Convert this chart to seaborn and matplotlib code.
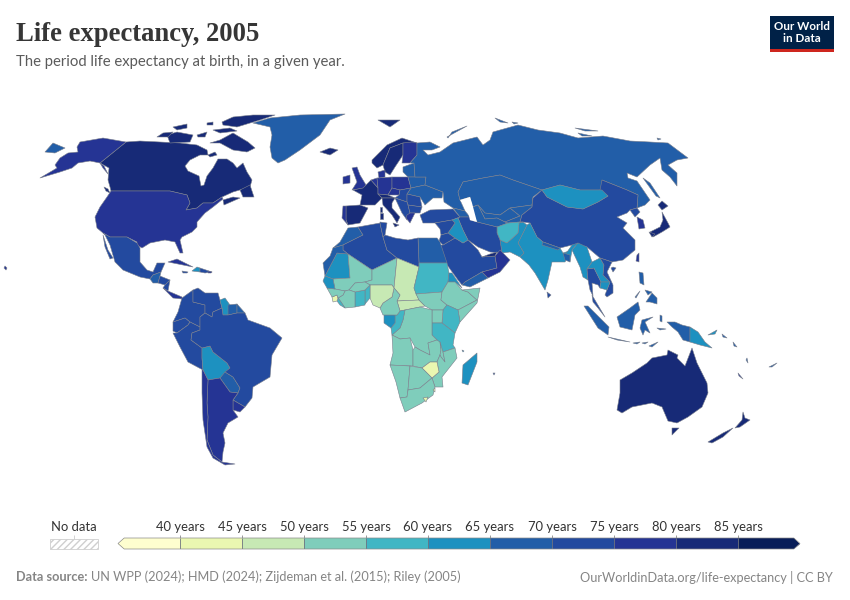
import numpy as np
import seaborn as sns
import matplotlib
matplotlib.use("Agg")
import matplotlib.pyplot as plt
from matplotlib.collections import PolyCollection
from matplotlib.colors import BoundaryNorm, ListedColormap
from matplotlib.patches import Polygon, Rectangle

# Bins and colours of the legend
bin_edges = [40, 45, 50, 55, 60, 65, 70, 75, 80, 85]
bin_colors = ["#fefecf", "#eaf7b1", "#c7e9b4", "#7fcdbb", "#41b6c4", "#1d91c0",
              "#225ea8", "#234a9f", "#253494", "#172a77", "#081d58"]

title = "Life expectancy, 2005"
subtitle = "The period life expectancy at birth, in a given year."
source_bold = "Data source:"
source_text = "UN WPP (2024); HMD (2024); Zijdeman et al. (2015); Riley (2005)"
credit = "OurWorldinData.org/life-expectancy | CC BY"

# Life expectancy by country
values_americas = {"Canada": 80.3, "USA": 77.6, "Chukotka": 66, "Mexico": 73.5, "Guatemala": 68, "Honduras": 71,
                   "Nicaragua": 72, "Panama": 76.5, "Cuba": 77, "Haiti": 60, "Dominican": 71, "Jamaica": 72,
                   "Puerto Rico": 78, "Colombia": 72, "Venezuela": 72, "Guyana": 63, "Suriname": 68, "Guiana": 68,
                   "Ecuador": 73, "Peru": 72.6, "Bolivia": 63, "Brazil": 71.5, "Paraguay": 69, "Uruguay": 75.5,
                   "Argentina": 75, "Chile": 78, "Greenland": 68}
values_europe = {"Iceland": 81, "Norway": 80.1, "Sweden": 80.6, "Finland": 78.9, "UK": 79, "Ireland": 79, "France": 80.2,
                 "Spain": 80.3, "Portugal": 78, "Benelux": 79, "Germany": 79, "Denmark": 78, "Poland": 75.2, "Baltics": 69,
                 "Belarus": 69, "Ukraine": 67.8, "Czechia": 76, "Austria": 80.1, "Italy": 80.8, "Hungary": 73,
                 "Romania": 72, "Balkans": 73.5, "Bulgaria": 72.5, "Greece": 79.3, "Russia": 65.5}
values_asia = {"Turkey": 73, "Caucasus": 69, "Kazakhstan": 66, "Uzbekistan": 67, "Turkmenistan": 66, "Kyrgyzstan": 67,
               "China": 74, "Mongolia": 64, "North Korea": 70, "South Korea": 78.5, "Japan": 81.9, "Taiwan": 77,
               "India": 64, "Pakistan": 63.5, "Afghanistan": 58, "Iran": 72, "Nepal": 66, "Bangladesh": 67, "Sri Lanka": 72,
               "Myanmar": 62, "Thailand": 72, "Laos": 63, "Vietnam": 73, "Cambodia": 62, "Malaysia": 72,
               "Indonesia": 67, "Philippines": 69, "Saudi Arabia": 73, "Yemen": 65.5, "Oman": 76, "UAE": 81,
               "Iraq": 62, "Syria": 73.5, "Jordan": 72}
values_africa = {"Egypt": 68, "Morocco": 69, "Algeria": 72, "Tunisia": 73, "Libya": 71, "Mauritania": 62, "W Sahara": 68,
                 "Mali": 51, "Niger": 52, "Chad": 48, "CAR": 47, "Sudan": 59, "South Sudan": 52, "Eritrea": 61,
                 "Ethiopia": 53, "Somalia": 52, "Kenya": 57, "Uganda": 52, "Tanzania": 57, "DRC": 52, "Congo": 56,
                 "Gabon": 61, "Cameroon": 52, "Nigeria": 47, "Benin": 57, "Ghana": 58, "Burkina": 52, "Ivory Coast": 51,
                 "Liberia": 56, "Sierra Leone": 44, "Guinea": 54, "Senegal": 63, "Angola": 52, "Zambia": 51, "Malawi": 52,
                 "Mozambique": 53, "Zimbabwe": 44, "Namibia": 54, "Botswana": 54, "South Africa": 54, "Lesotho": 42,
                 "Eswatini": 44, "Madagascar": 61, "Comoros": 63, "Mauritius": 72}
values_oceania = {"Australia": 80.9, "New Zealand": 80, "Papua New Guinea": 62, "Fiji": 68, "Solomon": 66,
                  "New Caledonia": 75, "Vanuatu": 67}

outlines_north_america = {
    "Canada": [(126, 142), (140, 141), (160, 142), (180, 143), (197, 145), (207, 150), (208, 155), (200, 155), (190, 160), (185, 166), (188, 171), (199, 176), (201, 186), (204, 185), (207, 176), (213, 168), (218, 159), (227, 159), (233, 163), (237, 168), (243, 163), (247, 172), (252, 180), (250, 187), (233, 192), (222, 197), (213, 203), (203, 203), (197, 208), (186, 210), (190, 203), (187, 195), (170, 191), (111, 191), (110, 187), (108, 180), (109, 168), (100, 163)],
    "Canada:Baffin": [(210, 143), (220, 140), (233, 133), (248, 142), (255, 148), (247, 152), (233, 150), (220, 143)],
    "Canada:Victoria": [(167, 135), (177, 132), (193, 135), (190, 142), (170, 143)],
    "Canada:Banks": [(157, 137), (163, 133), (173, 132), (168, 137)],
    "Canada:Ellesmere": [(222, 122), (233, 117), (253, 115), (275, 115), (260, 120), (237, 127), (223, 125)],
    "Canada:Melville": [(173, 127), (187, 124), (187, 128), (177, 130)],
    "Canada:Devon": [(213, 130), (230, 128), (237, 131), (220, 133)],
    "Canada:Prince": [(197, 135), (207, 132), (205, 137), (198, 137)],
    "Canada:Bathurst": [(207, 123), (213, 122), (213, 125), (207, 125)],
    "Canada:Southampton": [(208, 155), (215, 152), (217, 155), (210, 157)],
    "Canada:Newfoundland": [(240, 190), (250, 185), (254, 197), (243, 197)],
    "Canada:Nova Scotia": [(223, 200), (233, 197), (240, 198), (224, 205)],
    "Canada:Vancouver": [(104, 187), (108, 189), (110, 193), (106, 191)],
    "USA": [(111, 191), (170, 191), (187, 195), (190, 203), (186, 210), (197, 208), (203, 203), (213, 203), (222, 197), (223, 199), (213, 207), (205, 213), (197, 222), (197, 227), (192, 232), (182, 237), (180, 240), (183, 253), (180, 253), (175, 242), (165, 240), (150, 243), (142, 248), (137, 245), (137, 242), (127, 237), (110, 237), (103, 233), (97, 228), (95, 217), (100, 207), (107, 197)],
    "USA:Alaska": [(126, 142), (100, 163), (90, 161), (78, 163), (72, 168), (60, 172), (40, 178), (57, 168), (55, 165), (60, 158), (68, 153), (78, 152), (77, 147), (80, 142), (103, 138)],
    "USA:Panhandle": [(100, 163), (104, 166), (108, 174), (103, 168)],
    "USA:Hawaii": [(5, 266), (7, 268), (6, 270), (4, 268)],
    "Chukotka": [(45, 152), (53, 143), (65, 148), (55, 153)],
    "Mexico": [(103, 233), (110, 237), (127, 237), (137, 243), (140, 248), (140, 262), (147, 270), (153, 272), (157, 263), (165, 263), (161, 272), (153, 275), (150, 279), (140, 277), (123, 270), (115, 262), (110, 245), (105, 235)],
    "Mexico:Baja": [(103, 235), (108, 250), (113, 258), (110, 259), (105, 247)],
    "Guatemala": [(150, 279), (153, 275), (161, 272), (160, 276), (158, 283), (153, 283)],
    "Honduras": [(160, 276), (170, 280), (165, 285), (158, 283)],
    "Nicaragua": [(165, 285), (170, 280), (168, 291), (163, 288)],
    "Panama": [(163, 288), (168, 291), (175, 294), (182, 297), (182, 299), (173, 298)],
    "Cuba": [(168, 262), (177, 259), (193, 267), (183, 265)],
    "Haiti": [(192, 271), (197, 267), (200, 268), (200, 272)],
    "Dominican": [(200, 268), (212, 272), (205, 273), (200, 272)],
    "Jamaica": [(182, 271), (188, 272), (187, 273), (183, 273)],
    "Puerto Rico": [(208, 271), (212, 272), (211, 273), (208, 273)],
    "Greenland": [(253, 123), (270, 118), (300, 115), (345, 114), (330, 120), (320, 135), (300, 150), (285, 160), (278, 163), (272, 158), (270, 147), (272, 135), (270, 127)],
}
outlines_south_america = {
    "Colombia": [(182, 298), (193, 290), (193, 302), (205, 305), (205, 313), (200, 317), (200, 327), (190, 322), (185, 318), (173, 322), (178, 312)],
    "Venezuela": [(193, 290), (198, 288), (205, 293), (218, 293), (220, 300), (222, 308), (213, 312), (212, 317), (205, 313), (205, 305), (193, 302)],
    "Guyana": [(220, 300), (225, 298), (230, 305), (228, 315), (223, 315), (222, 308)],
    "Suriname": [(228, 305), (237, 304), (237, 313), (228, 315)],
    "Guiana": [(237, 304), (245, 313), (237, 313)],
    "Ecuador": [(173, 322), (185, 318), (190, 322), (188, 325), (177, 333), (173, 331)],
    "Peru": [(177, 333), (188, 325), (190, 322), (200, 327), (200, 330), (192, 333), (191, 340), (202, 348), (202, 358), (203, 370), (188, 362), (180, 347), (173, 333)],
    "Bolivia": [(202, 348), (210, 346), (213, 352), (227, 363), (230, 368), (220, 378), (208, 380), (203, 370), (202, 358)],
    "Paraguay": [(220, 378), (225, 372), (233, 377), (240, 388), (238, 393), (230, 392)],
    "Brazil": [(200, 317), (205, 313), (212, 317), (213, 312), (222, 308), (223, 315), (228, 315), (237, 313), (245, 313), (248, 320), (270, 328), (282, 338), (272, 355), (270, 377), (253, 387), (252, 398), (245, 407), (233, 400), (238, 393), (240, 388), (233, 377), (225, 372), (230, 368), (227, 363), (213, 352), (210, 346), (202, 348), (191, 340), (192, 333), (200, 330), (200, 327)],
    "Uruguay": [(233, 400), (245, 407), (240, 412), (233, 410)],
    "Argentina": [(208, 380), (220, 378), (230, 392), (238, 393), (233, 400), (233, 410), (238, 417), (228, 423), (223, 433), (225, 443), (223, 452), (222, 462), (213, 455), (207, 440), (208, 417), (207, 403)],
    "Chile": [(203, 370), (208, 380), (207, 403), (208, 417), (207, 440), (213, 455), (222, 462), (235, 464), (225, 465), (213, 458), (207, 447), (203, 420), (202, 393), (202, 370)],
}
outlines_europe = {
    "Iceland": [(320, 152), (330, 148), (338, 150), (330, 155)],
    "Norway": [(372, 160), (387, 145), (402, 138), (417, 143), (403, 143), (390, 148), (383, 165), (377, 168), (372, 163)],
    "Norway:Svalbard": [(378, 120), (400, 120), (390, 127)],
    "Sweden": [(383, 165), (390, 148), (403, 143), (403, 155), (395, 167), (390, 175), (385, 172)],
    "Finland": [(403, 143), (412, 142), (417, 143), (417, 155), (410, 163), (402, 163), (403, 155)],
    "UK": [(352, 168), (357, 167), (360, 175), (366, 185), (364, 188), (352, 190), (357, 182)],
    "Ireland": [(343, 177), (350, 175), (350, 183), (343, 184)],
    "France": [(353, 190), (363, 188), (371, 180), (378, 188), (378, 194), (382, 198), (375, 205), (360, 205), (362, 195)],
    "France:Corsica": [(380, 207), (382, 207), (382, 212), (380, 212)],
    "Spain": [(346, 206), (360, 205), (368, 208), (360, 223), (348, 225), (346, 220)],
    "Portugal": [(343, 206), (346, 206), (346, 220), (348, 225), (342, 218)],
    "Benelux": [(371, 180), (377, 178), (378, 188)],
    "Germany": [(377, 178), (392, 177), (392, 188), (388, 195), (378, 194), (378, 188)],
    "Denmark": [(378, 172), (385, 170), (385, 177), (379, 178)],
    "Poland": [(392, 177), (408, 177), (411, 188), (400, 190), (392, 188)],
    "Baltics": [(403, 167), (414, 163), (415, 177), (408, 177), (403, 172)],
    "Belarus": [(408, 177), (415, 177), (426, 177), (425, 185), (411, 188)],
    "Ukraine": [(411, 188), (425, 185), (443, 192), (442, 198), (433, 198), (425, 205), (420, 197), (407, 194)],
    "Czechia": [(392, 188), (400, 190), (399, 195), (388, 195)],
    "Austria": [(378, 194), (388, 195), (395, 198), (382, 198)],
    "Italy": [(382, 198), (395, 198), (392, 203), (392, 208), (400, 217), (397, 223), (392, 215), (383, 205)],
    "Italy:Sicily": [(393, 223), (399, 225), (395, 227)],
    "Italy:Sardinia": [(380, 213), (383, 213), (383, 219), (380, 219)],
    "Hungary": [(395, 198), (399, 195), (400, 190), (411, 188), (407, 194), (407, 202)],
    "Romania": [(407, 194), (420, 197), (422, 207), (408, 205), (407, 202)],
    "Balkans": [(395, 198), (407, 202), (408, 205), (410, 213), (407, 220), (402, 213)],
    "Bulgaria": [(408, 205), (422, 207), (420, 213), (410, 213)],
    "Greece": [(407, 215), (410, 213), (415, 213), (410, 223), (406, 218)],
    "Russia": [(417, 143), (430, 142), (440, 147), (432, 150), (423, 150), (428, 155), (440, 152), (453, 143), (477, 137), (483, 145), (490, 140), (493, 132), (500, 130), (518, 125), (538, 130), (560, 133), (578, 138), (603, 136), (630, 141), (650, 142), (668, 143), (680, 152), (688, 158), (677, 160), (668, 165), (677, 173), (677, 186), (670, 177), (662, 170), (660, 158), (650, 165), (637, 177), (627, 173), (628, 178), (637, 181), (650, 200), (645, 205), (637, 208), (638, 195), (627, 190), (602, 180), (602, 190), (580, 190), (560, 185), (542, 190), (513, 180), (500, 175), (483, 178), (463, 182), (458, 192), (460, 200), (465, 211), (453, 208), (444, 202), (443, 192), (425, 185), (426, 177), (415, 177), (414, 163), (410, 163), (417, 155)],
    "Russia:Novaya Zemlya": [(447, 137), (467, 126), (452, 132), (448, 138)],
    "Russia:Sakhalin": [(643, 178), (650, 183), (660, 198), (656, 196)],
    "Russia:Siberia Is": [(495, 118), (508, 123), (500, 122)],
    "Russia:Severnaya": [(512, 122), (518, 123), (514, 124)],
    "Russia:Lyakhov": [(575, 128), (598, 131), (585, 131)],
    "Russia:Anjou": [(578, 133), (592, 136), (582, 136)],
    "Russia:Wrangel": [(657, 138), (661, 139), (658, 140)],
}
outlines_asia = {
    "Turkey": [(420, 215), (430, 210), (453, 209), (460, 217), (452, 220), (435, 223), (423, 223)],
    "Caucasus": [(453, 208), (465, 211), (470, 217), (460, 217)],
    "Kazakhstan": [(458, 192), (463, 182), (483, 178), (500, 175), (513, 180), (542, 190), (533, 197), (532, 205), (510, 208), (500, 215), (485, 213), (478, 205), (472, 207), (470, 197), (460, 200)],
    "Uzbekistan": [(478, 205), (485, 213), (500, 215), (510, 208), (520, 216), (505, 222), (497, 218), (485, 219)],
    "Turkmenistan": [(470, 208), (478, 205), (485, 219), (497, 218), (505, 222), (508, 223), (497, 227), (477, 222)],
    "Kyrgyzstan": [(510, 208), (532, 205), (533, 198), (532, 207), (522, 215), (520, 222), (508, 223), (505, 222), (520, 216)],
    "China": [(522, 215), (532, 207), (533, 198), (542, 190), (547, 197), (567, 207), (583, 209), (598, 202), (608, 196), (600, 190), (602, 180), (627, 190), (638, 195), (637, 208), (630, 210), (627, 213), (617, 217), (627, 223), (623, 228), (635, 240), (635, 250), (623, 260), (612, 262), (600, 258), (587, 247), (572, 245), (560, 248), (543, 242), (537, 237), (530, 223), (523, 222), (520, 222)],
    "Mongolia": [(542, 190), (560, 185), (580, 190), (602, 190), (608, 196), (598, 202), (583, 209), (567, 207), (547, 197)],
    "North Korea": [(630, 210), (637, 208), (640, 212), (635, 217)],
    "South Korea": [(637, 217), (643, 220), (645, 228), (639, 229)],
    "Japan": [(650, 232), (660, 227), (663, 220), (662, 212), (668, 223), (670, 227), (662, 232), (653, 237)],
    "Japan:Hokkaido": [(658, 205), (662, 201), (668, 206), (662, 210)],
    "Japan:Kyushu": [(649, 232), (655, 234), (652, 237)],
    "Taiwan": [(637, 255), (639, 253), (639, 262), (636, 261)],
    "China:Hainan": [(611, 268), (613, 267), (616, 268), (613, 272)],
    "India": [(527, 225), (530, 223), (537, 237), (543, 242), (560, 248), (563, 253), (572, 250), (565, 262), (552, 262), (548, 280), (545, 290), (535, 273), (529, 265), (520, 257), (524, 253), (518, 243), (523, 233)],
    "India:Assam": [(565, 255), (572, 245), (578, 243), (572, 250), (570, 262)],
    "Bangladesh": [(563, 253), (570, 255), (570, 262), (565, 260)],
    "Nepal": [(543, 242), (560, 248), (558, 250), (542, 245)],
    "Sri Lanka": [(547, 292), (551, 295), (548, 298)],
    "Pakistan": [(500, 240), (507, 243), (518, 233), (519, 223), (523, 222), (527, 225), (523, 233), (518, 243), (524, 253), (520, 257), (510, 252), (502, 253)],
    "Afghanistan": [(497, 227), (508, 223), (520, 222), (523, 222), (519, 223), (518, 233), (507, 243), (500, 240), (497, 233)],
    "Iran": [(458, 218), (460, 217), (470, 217), (470, 220), (477, 222), (497, 227), (497, 233), (500, 240), (502, 253), (490, 252), (478, 247), (468, 240), (463, 230)],
    "Myanmar": [(572, 250), (578, 243), (587, 247), (592, 262), (587, 269), (588, 280), (583, 277), (580, 267)],
    "Thailand": [(587, 269), (594, 268), (601, 282), (600, 288), (598, 285), (592, 283), (593, 296), (590, 290), (588, 280)],
    "Laos": [(592, 262), (600, 258), (604, 265), (603, 275), (610, 282), (601, 282), (594, 268), (587, 269)],
    "Vietnam": [(600, 258), (612, 262), (607, 272), (613, 285), (613, 293), (607, 297), (605, 295), (610, 282), (603, 275), (604, 265)],
    "Cambodia": [(601, 282), (610, 282), (607, 290), (600, 288)],
    "Malaysia": [(592, 295), (605, 317), (598, 308), (593, 302)],
    "Indonesia:Sumatra": [(584, 306), (588, 306), (609, 327), (608, 335), (598, 328)],
    "Indonesia:Java": [(608, 337), (630, 342), (617, 340)],
    "Indonesia:Bali": [(633, 343), (640, 342), (637, 344)],
    "Indonesia:Flores": [(642, 343), (648, 342), (645, 344)],
    "Indonesia:Timor": [(649, 346), (658, 342), (652, 347)],
    "Indonesia:Borneo": [(617, 317), (630, 308), (638, 302), (640, 310), (635, 315), (632, 330), (620, 327)],
    "Indonesia:Sulawesi": [(642, 320), (653, 317), (645, 322), (650, 333), (645, 330), (643, 335), (640, 328)],
    "Indonesia:Halmahera": [(660, 315), (662, 316), (662, 322), (660, 321)],
    "Indonesia:Seram": [(657, 328), (666, 329), (660, 330)],
    "Indonesia:Papua": [(667, 322), (675, 322), (682, 325), (690, 327), (690, 342), (683, 340), (678, 332), (672, 327)],
    "Philippines": [(639, 272), (643, 273), (644, 285), (640, 283)],
    "Philippines:Mindanao": [(646, 302), (652, 293), (657, 298), (657, 304), (650, 302)],
    "Philippines:Visayas": [(645, 290), (652, 292), (648, 295)],
    "Philippines:Palawan": [(635, 297), (640, 291), (636, 298)],
    "Saudi Arabia": [(440, 245), (443, 245), (455, 238), (463, 243), (468, 240), (478, 250), (482, 257), (495, 256), (497, 268), (482, 272), (465, 282), (462, 285), (458, 280), (445, 262)],
    "Yemen": [(462, 285), (465, 282), (482, 272), (488, 278), (470, 287)],
    "Oman": [(495, 256), (500, 250), (510, 260), (500, 272), (488, 278), (482, 272), (497, 268)],
    "UAE": [(482, 257), (490, 254), (497, 252), (495, 256)],
    "Iraq": [(448, 233), (455, 223), (452, 220), (458, 218), (463, 230), (468, 240), (463, 243), (455, 238)],
    "Syria": [(435, 223), (452, 220), (455, 223), (448, 233), (441, 235), (440, 229)],
    "Jordan": [(441, 235), (448, 233), (455, 238), (443, 245), (439, 241)],
}
outlines_africa = {
    "Egypt": [(418, 238), (437, 238), (440, 242), (447, 263), (419, 263)],
    "Morocco": [(333, 248), (340, 242), (348, 228), (358, 227), (363, 235), (343, 245)],
    "Algeria": [(358, 227), (380, 223), (383, 237), (387, 250), (397, 258), (372, 270), (348, 254), (343, 250), (343, 245), (363, 235)],
    "Tunisia": [(380, 222), (387, 223), (385, 235), (383, 237), (380, 223)],
    "Libya": [(385, 235), (395, 238), (408, 240), (418, 238), (419, 263), (419, 267), (397, 258), (387, 250), (383, 237)],
    "Mauritania": [(325, 276), (337, 253), (348, 254), (350, 278), (333, 279)],
    "W Sahara": [(323, 263), (330, 256), (333, 248), (343, 245), (343, 250), (348, 254), (337, 253), (325, 276)],
    "Mali": [(348, 254), (372, 270), (372, 280), (365, 282), (355, 283), (349, 290), (345, 291), (335, 289), (333, 279), (350, 278)],
    "Niger": [(372, 270), (397, 258), (394, 288), (392, 285), (370, 285), (365, 282), (372, 280)],
    "Chad": [(397, 258), (419, 267), (414, 288), (419, 300), (397, 301), (400, 295), (394, 288)],
    "CAR": [(397, 301), (419, 300), (425, 306), (420, 307), (405, 310), (400, 311)],
    "Sudan": [(419, 263), (447, 263), (449, 273), (448, 282), (442, 292), (416, 294), (414, 288), (419, 267)],
    "South Sudan": [(416, 294), (442, 292), (441, 300), (447, 305), (443, 310), (432, 310), (425, 306), (419, 300)],
    "Eritrea": [(449, 273), (452, 273), (462, 288), (455, 282), (448, 282)],
    "Ethiopia": [(442, 292), (448, 282), (455, 282), (462, 290), (468, 292), (477, 300), (458, 310), (447, 305), (441, 300)],
    "Somalia": [(462, 290), (480, 288), (477, 303), (460, 322), (458, 310), (477, 300), (468, 292)],
    "Kenya": [(447, 305), (458, 310), (460, 322), (455, 333), (442, 323), (443, 310)],
    "Uganda": [(432, 310), (443, 310), (442, 323), (432, 323)],
    "Tanzania": [(432, 323), (442, 323), (455, 333), (453, 345), (455, 348), (443, 352), (437, 340), (432, 335)],
    "DRC": [(405, 310), (420, 307), (432, 310), (432, 335), (437, 340), (428, 343), (430, 355), (420, 350), (415, 347), (410, 338), (400, 339), (392, 335), (400, 328), (403, 320)],
    "Congo": [(397, 315), (400, 311), (405, 310), (403, 320), (400, 328), (392, 335), (391, 328), (395, 323), (395, 315)],
    "Gabon": [(384, 315), (395, 315), (395, 323), (391, 328), (384, 323)],
    "Cameroon": [(394, 288), (400, 295), (397, 301), (400, 311), (397, 315), (383, 315), (380, 308), (383, 303), (392, 297)],
    "Nigeria": [(370, 285), (392, 285), (394, 288), (392, 297), (383, 303), (380, 308), (373, 305), (370, 298)],
    "Benin": [(365, 290), (370, 285), (370, 298), (365, 304)],
    "Ghana": [(355, 292), (365, 290), (365, 305), (355, 307)],
    "Burkina": [(349, 290), (355, 283), (365, 282), (370, 285), (365, 290), (355, 292)],
    "Ivory Coast": [(345, 291), (349, 290), (355, 292), (355, 307), (345, 308), (341, 302), (338, 298), (343, 295)],
    "Liberia": [(337, 301), (338, 298), (341, 302), (345, 308), (340, 305)],
    "Sierra Leone": [(332, 297), (337, 295), (338, 298), (337, 301), (333, 302)],
    "Guinea": [(327, 288), (335, 289), (345, 291), (343, 295), (338, 298), (337, 295), (332, 297)],
    "Senegal": [(325, 276), (333, 279), (335, 289), (327, 288), (323, 281)],
    "Angola": [(392, 335), (400, 339), (410, 338), (413, 350), (413, 366), (390, 365), (393, 353)],
    "Zambia": [(413, 350), (415, 347), (420, 350), (430, 355), (428, 343), (437, 340), (440, 342), (441, 350), (440, 355), (437, 362), (430, 362), (422, 368), (413, 366)],
    "Malawi": [(440, 342), (443, 352), (445, 362), (441, 357), (440, 355), (441, 350)],
    "Mozambique": [(443, 352), (455, 348), (457, 358), (442, 377), (443, 387), (435, 387), (432, 378), (439, 372), (437, 362), (440, 355), (441, 357), (445, 362)],
    "Zimbabwe": [(430, 362), (437, 362), (439, 372), (432, 378), (422, 368)],
    "Namibia": [(390, 365), (410, 366), (408, 390), (407, 397), (400, 398), (396, 382)],
    "Botswana": [(410, 366), (422, 368), (432, 378), (420, 388), (408, 390)],
    "South Africa": [(408, 390), (420, 388), (432, 378), (435, 387), (433, 395), (422, 403), (405, 412), (400, 398), (407, 397)],
    "Lesotho": [(423, 398), (428, 397), (426, 402)],
    "Eswatini": [(433, 390), (435, 388), (435, 392)],
    "Madagascar": [(477, 353), (477, 362), (468, 385), (462, 383), (463, 365)],
    "Comoros": [(462, 350), (464, 351), (463, 352)],
    "Mauritius": [(493, 373), (495, 373), (494, 375)],
}
outlines_oceania = {
    "Australia": [(617, 410), (620, 393), (620, 380), (632, 373), (647, 363), (652, 358), (667, 355), (668, 350), (678, 355), (677, 358), (685, 366), (692, 348), (697, 363), (707, 383), (708, 393), (702, 407), (688, 417), (677, 423), (668, 421), (662, 407), (652, 403), (632, 407), (622, 413)],
    "Australia:Tasmania": [(672, 428), (679, 428), (672, 435)],
    "New Zealand": [(708, 442), (723, 433), (733, 428), (723, 437), (712, 443)],
    "New Zealand:North": [(735, 428), (742, 420), (743, 412), (745, 418), (750, 420), (740, 427)],
    "Papua New Guinea": [(690, 327), (698, 332), (705, 342), (712, 348), (700, 345), (690, 342)],
    "Papua New Guinea:Britain": [(708, 335), (717, 330), (715, 334)],
    "Solomon": [(722, 334), (727, 338), (723, 337)],
    "Solomon:East": [(733, 342), (737, 347), (734, 346)],
    "New Caledonia": [(738, 373), (743, 379), (739, 376)],
    "Vanuatu": [(747, 358), (748, 363), (746, 360)],
    "Fiji": [(769, 367), (777, 363), (772, 367)],
}
# Inland sea left blank on the map
caspian = [(460, 200), (470, 197), (472, 203), (477, 222), (470, 220), (467, 208)]

sns.set_theme(style="white")
plt.rcParams["font.family"] = ["Lato", "DejaVu Sans"]

palette = sns.color_palette(bin_colors)
scale_cmap = ListedColormap(palette)
scale_norm = BoundaryNorm([0] + bin_edges + [120], scale_cmap.N)

values = {**values_americas, **values_europe, **values_asia, **values_africa, **values_oceania}
outlines = {**outlines_north_america, **outlines_south_america, **outlines_europe,
            **outlines_asia, **outlines_africa, **outlines_oceania}

fig = plt.figure(figsize=(8.5, 6), dpi=100)
ax = fig.add_axes([0, 0, 1, 1])
ax.set_xlim(0, 850)
ax.set_ylim(600, 0)
ax.axis("off")

# Map
names = list(outlines)
shapes = PolyCollection([outlines[n] for n in names],
                        array=np.array([values[n.split(":")[0]] for n in names]),
                        cmap=scale_cmap, norm=scale_norm, edgecolors="#7a7f8c", linewidths=0.4)
ax.add_collection(shapes)
ax.fill(*zip(*caspian), color="white", lw=0)

# Headings
ax.text(16, 41, title, family="Liberation Serif", weight="bold", fontsize=19.2, color="#363636")
ax.text(16, 66, subtitle, fontsize=10.7, color="#5b5b5b")

# Logo
ax.add_patch(Rectangle((770, 16), 64, 36, color="#002147", lw=0))
ax.add_patch(Rectangle((770, 49), 64, 3, color="#ce261e", lw=0))
ax.text(802, 32.5, "Our World\nin Data", color="white", weight="bold", fontsize=8.4,
        ha="center", va="center", linespacing=1.1)

# No data box
ax.add_patch(Rectangle((50, 538.5), 48, 10.5, facecolor="white", edgecolor="#cfcfcf", hatch="/////", lw=0.6))
ax.text(74, 527, "No data", fontsize=9.4, color="#333333", ha="center", va="center")
ax.vlines(74, 535, 538.5, color="#cccccc", lw=0.6)

# Colour legend: one row of cells, cut to arrow ends
legend_left, cell_w = 118, 62
n_cells = len(bin_colors)
legend_ax = fig.add_axes([legend_left / 850, 1 - 549 / 600, cell_w * n_cells / 850, 11 / 600])
sns.heatmap(np.arange(n_cells).reshape(1, -1), cmap=scale_cmap, cbar=False,
            xticklabels=False, yticklabels=False, ax=legend_ax)
arrow = [(0, 0.5), (0.1, 0), (n_cells - 0.1, 0), (n_cells, 0.5), (n_cells - 0.1, 1), (0.1, 1)]
outline = Polygon(arrow, closed=True, fill=False, edgecolor="#8a8a8a", lw=0.5, clip_on=False, zorder=5)
legend_ax.add_patch(outline)
legend_ax.collections[0].set_clip_path(outline)
legend_ax.vlines(range(1, n_cells), 0, 1, color="#6f7480", lw=0.6, zorder=4)
legend_ax.axis("off")

for i, edge in enumerate(bin_edges):
    tick_x = legend_left + cell_w * (i + 1)
    ax.text(tick_x, 527, f"{edge} years", fontsize=9.4, color="#333333", ha="center", va="center")
    ax.vlines(tick_x, 534.5, 538, color="#888888", lw=0.6)

# Footer
renderer = fig.canvas.get_renderer()
src = ax.text(16, 577, source_bold, weight="bold", fontsize=9.2, color="#858585", va="center")
src_right = src.get_window_extent(renderer).x1
ax.text(src_right + 4, 577, source_text, fontsize=9.2, color="#858585", va="center")
ax.text(833, 577, credit, fontsize=9.2, color="#858585", va="center", ha="right")

fig.savefig("out.png", dpi=100)
